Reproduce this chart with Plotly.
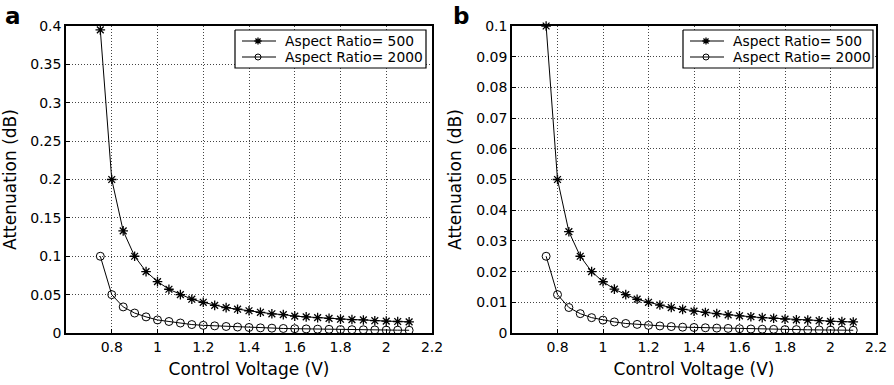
import plotly.graph_objects as go

voltage = [0.75, 0.80, 0.85, 0.90, 0.95, 1.00, 1.05, 1.10, 1.15, 1.20, 1.25, 1.30, 1.35, 1.40,
           1.45, 1.50, 1.55, 1.60, 1.65, 1.70, 1.75, 1.80, 1.85, 1.90, 1.95, 2.00, 2.05, 2.10]

a_ar500 = [0.395, 0.2, 0.133, 0.1, 0.08, 0.067, 0.057, 0.05, 0.044, 0.04, 0.036, 0.033, 0.031, 0.029,
           0.027, 0.025, 0.024, 0.022, 0.021, 0.02, 0.019, 0.018, 0.0175, 0.017, 0.016, 0.0155, 0.015, 0.0145]
a_ar2000 = [0.1, 0.05, 0.034, 0.026, 0.021, 0.017, 0.015, 0.013, 0.011, 0.010, 0.0093, 0.0085, 0.0078, 0.0072,
            0.0067, 0.0063, 0.0059, 0.0056, 0.0053, 0.005, 0.0048, 0.0045, 0.0043, 0.0042, 0.004, 0.0038, 0.0037, 0.0036]

b_ar500 = [0.1, 0.05, 0.033, 0.025, 0.02, 0.0167, 0.0143, 0.0125, 0.011, 0.01, 0.0091, 0.0083, 0.0077, 0.0071,
           0.0067, 0.0063, 0.0059, 0.0056, 0.0053, 0.005, 0.0048, 0.0045, 0.0043, 0.0042, 0.004, 0.0038, 0.0037, 0.0036]
b_ar2000 = [0.025, 0.0125, 0.0083, 0.0063, 0.005, 0.0042, 0.0036, 0.0031, 0.0028, 0.0025, 0.0023, 0.0021, 0.0019, 0.0018,
            0.0017, 0.0016, 0.0015, 0.0014, 0.0013, 0.00125, 0.0012, 0.0011, 0.0011, 0.00104, 0.001, 0.00096, 0.00093, 0.0009]

x_ticks = [0.8, 1.0, 1.2, 1.4, 1.6, 1.8, 2.0, 2.2]
a_yticks = [0, 0.05, 0.1, 0.15, 0.2, 0.25, 0.3, 0.35, 0.4]
b_yticks = [0, 0.01, 0.02, 0.03, 0.04, 0.05, 0.06, 0.07, 0.08, 0.09, 0.1]

names = ["Aspect Ratio= 500", "Aspect Ratio= 2000"]

FONT = "DejaVu Sans, Arial, sans-serif"
FS = 14
W, H = 894, 385

fig = go.Figure()

star = dict(symbol="asterisk-open", size=8, color="black", line=dict(color="black", width=1.3))
circ = dict(symbol="circle-open", size=8, color="black", line=dict(color="black", width=1))

def add_pair(xa, ya, s500, s2000):
    fig.add_trace(go.Scatter(x=voltage, y=s500, mode="lines+markers", name=names[0],
                             xaxis=xa, yaxis=ya, showlegend=False, cliponaxis=False,
                             line=dict(color="black", width=1), marker=star))
    fig.add_trace(go.Scatter(x=voltage, y=s2000, mode="lines+markers", name=names[1],
                             xaxis=xa, yaxis=ya, showlegend=False, cliponaxis=False,
                             line=dict(color="black", width=1), marker=circ))

add_pair("x", "y", a_ar500, a_ar2000)
add_pair("x2", "y2", b_ar500, b_ar2000)

axis_common = dict(showline=True, linecolor="black", linewidth=1.5, mirror=True,
                   ticks="inside", ticklen=4, tickwidth=1, tickcolor="black",
                   showgrid=True, gridcolor="#444", griddash="1px,2px", gridwidth=1,
                   zeroline=False, automargin=False,
                   tickfont=dict(family=FONT, size=FS, color="black"))

ytop = 1 - 26 / H
ybot = 1 - 333 / H

# manual legends drawn on a full-page pixel overlay axis (x3/y3)
legend_boxes = [(235, 30, 426, 68), (683, 30, 873, 68)]
rows = [41, 57]
annotations = []
for (x0, y0, x1, y1) in legend_boxes:
    fig.add_trace(go.Scatter(x=[x0, x1, x1, x0, x0], y=[y0, y0, y1, y1, y0], mode="lines",
                             fill="toself", fillcolor="white", xaxis="x3", yaxis="y3",
                             line=dict(color="black", width=1.2), showlegend=False, hoverinfo="skip"))
    for r, nm, mk in zip(rows, names, [star, circ]):
        fig.add_trace(go.Scatter(x=[x0 + 7, x0 + 41], y=[r, r], mode="lines", xaxis="x3", yaxis="y3",
                                 line=dict(color="black", width=1), showlegend=False, hoverinfo="skip"))
        fig.add_trace(go.Scatter(x=[x0 + 23], y=[r], mode="markers", xaxis="x3", yaxis="y3",
                                 showlegend=False, hoverinfo="skip",
                                 marker=dict(mk, size=6)))
        annotations.append(dict(text=nm, x=(x0 + 48) / W, y=1 - r / H, xref="paper", yref="paper",
                                xanchor="left", yanchor="middle", showarrow=False,
                                font=dict(family=FONT, size=13.8, color="black")))

annotations.append(dict(text="<b>a</b>", x=3 / W, y=1 - 1 / H, xref="paper", yref="paper",
                        xanchor="left", yanchor="top", showarrow=False,
                        font=dict(family=FONT, size=23, color="black")))
annotations.append(dict(text="<b>b</b>", x=451 / W, y=1 - 1 / H, xref="paper", yref="paper",
                        xanchor="left", yanchor="top", showarrow=False,
                        font=dict(family=FONT, size=23, color="black")))

fig.update_layout(
    width=W, height=H, margin=dict(l=0, r=0, t=0, b=0, pad=0, autoexpand=False),
    paper_bgcolor="white", plot_bgcolor="rgba(0,0,0,0)",
    font=dict(family=FONT, size=FS, color="black"),
    showlegend=False,
    xaxis=dict(domain=[66 / W, 432 / W], range=[0.6, 2.2], tickvals=x_ticks,
               title=dict(text="Control Voltage (V)", standoff=10), anchor="y", **axis_common),
    yaxis=dict(domain=[ybot, ytop], range=[0, 0.4], tickvals=a_yticks,
               title=dict(text="Attenuation (dB)", standoff=10), anchor="x", **axis_common),
    xaxis2=dict(domain=[512 / W, 876 / W], range=[0.6, 2.2], tickvals=x_ticks,
                title=dict(text="Control Voltage (V)", standoff=10), anchor="y2", **axis_common),
    yaxis2=dict(domain=[ybot, ytop], range=[0, 0.1], tickvals=b_yticks,
                title=dict(text="Attenuation (dB)", standoff=10), anchor="x2", **axis_common),
    xaxis3=dict(domain=[0, 1], range=[0, W], visible=False, fixedrange=True, anchor="y3", automargin=False),
    yaxis3=dict(domain=[0, 1], range=[H, 0], visible=False, fixedrange=True, anchor="x3", automargin=False),
    annotations=annotations,
)

fig.write_html("out.html")
